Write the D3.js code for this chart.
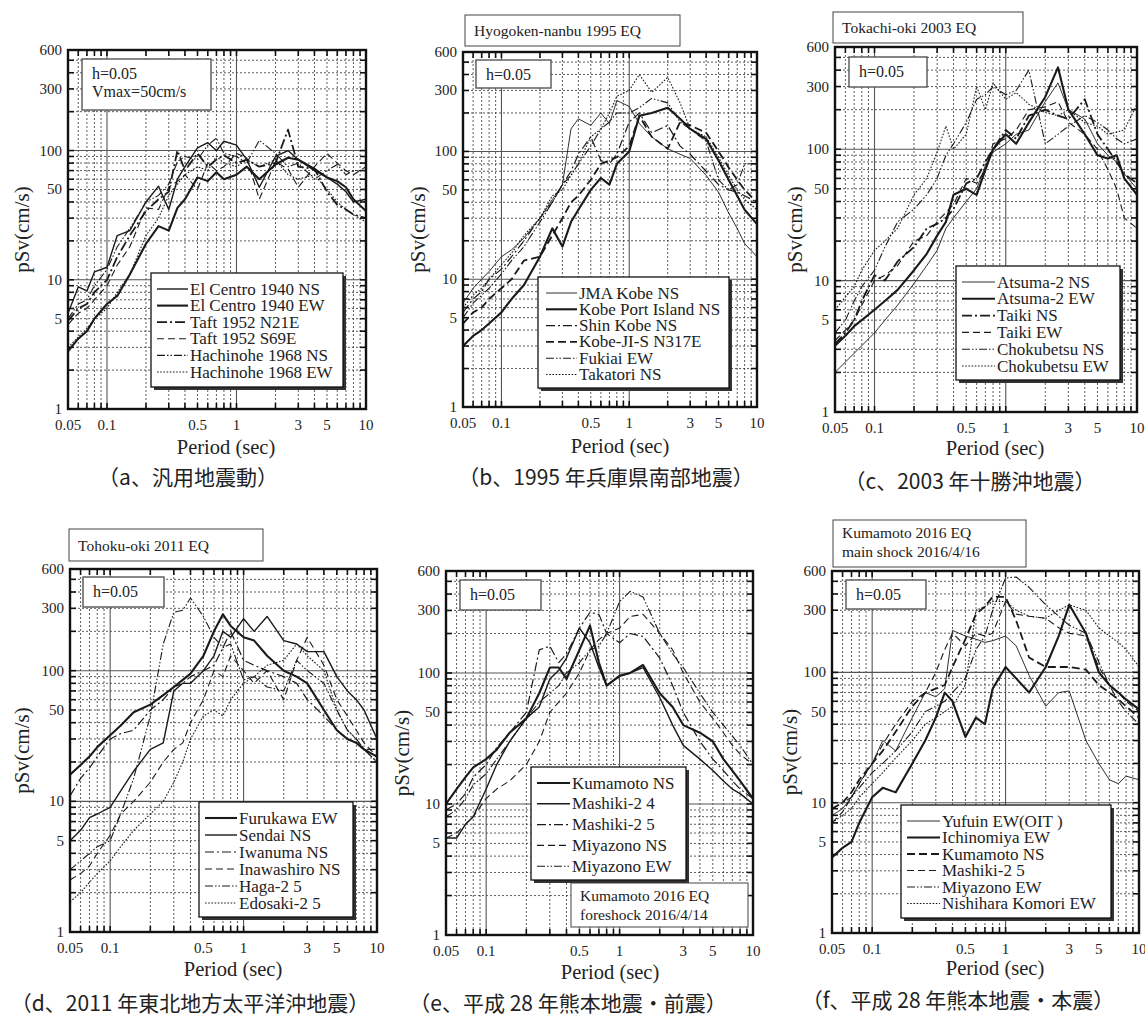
<!DOCTYPE html>
<html>
<head>
<meta charset="utf-8">
<script src="https://cdnjs.cloudflare.com/ajax/libs/d3/7.8.5/d3.min.js"></script>
<style>
  body { margin: 0; background: #fff; }
  svg text { font-family: "Liberation Serif", "DejaVu Serif", serif; fill: #222; }
  svg text.cap { font-family: "Noto Sans CJK JP", "Noto Sans", sans-serif; }
</style>
</head>
<body>
<svg id="chart" width="1145" height="1025"></svg>
<script>

// Periods (sec) shared by all spectra
const periods = [0.05, 0.06, 0.07, 0.08, 0.1, 0.12, 0.15, 0.2, 0.25, 0.3, 0.35, 0.4, 0.5, 0.6, 0.7, 0.8, 1, 1.2, 1.5, 2, 2.5, 3, 4, 5, 6, 7, 8, 10];

const xTickLabels = [0.05, 0.1, 0.5, 1, 3, 5, 10];
const yTickLabels = [1, 5, 10, 50, 100, 300, 600];

// (a) standard ground motions
const elCentroNS  = [5.5, 8.8, 8.2, 11.5, 12.5, 22, 24, 40, 53, 35, 60, 75, 105, 115, 100, 118, 110, 85, 52, 90, 100, 85, 70, 62, 55, 48, 40, 42];
const elCentroEW  = [2.8, 3.5, 4, 5, 6.5, 7.5, 11, 19, 26, 24, 36, 42, 62, 58, 68, 60, 65, 75, 60, 78, 88, 85, 72, 62, 58, 52, 42, 34];
const taftN21E    = [4.8, 6, 6.5, 8, 10, 15, 22, 34, 42, 48, 100, 70, 95, 75, 85, 92, 80, 85, 75, 80, 145, 75, 72, 48, 38, 35, 32, 30];
const taftS69E    = [4.5, 5.5, 6, 7, 9, 13, 18, 36, 35, 52, 58, 65, 50, 80, 70, 75, 95, 88, 42, 82, 72, 52, 75, 95, 80, 70, 65, 75];
const hachinoheNS = [5, 6.5, 7, 9, 12, 18, 25, 40, 45, 55, 82, 90, 85, 110, 125, 95, 90, 80, 120, 95, 75, 80, 60, 70, 78, 65, 70, 70];
const hachinoheEW = [3, 3.6, 4.2, 5, 6, 8, 11, 22, 30, 45, 55, 65, 75, 70, 90, 80, 75, 85, 75, 85, 65, 60, 65, 50, 40, 35, 32, 28];

// (b) Hyogoken-nanbu 1995
const jmaKobeNS   = [6.5, 8.5, 10, 11.5, 15, 17, 21, 30, 42, 55, 150, 180, 160, 200, 165, 250, 225, 165, 130, 105, 95, 88, 65, 48, 33, 25, 19, 15];
const portIslandNS = [3, 3.6, 4, 4.5, 5.5, 7, 9, 15, 25, 18, 28, 35, 50, 62, 55, 80, 100, 190, 200, 220, 180, 150, 125, 85, 60, 45, 35, 27];
const shinKobeNS  = [5.5, 7, 8, 10, 12, 15, 20, 30, 40, 55, 70, 95, 130, 85, 80, 95, 170, 200, 140, 160, 110, 95, 70, 55, 50, 48, 45, 40];
const kobeJIS     = [4.5, 5.5, 6, 7, 8.5, 10, 14, 15, 22, 30, 40, 45, 60, 80, 85, 90, 110, 190, 130, 105, 170, 160, 140, 100, 75, 60, 50, 40];
const fukiaiEW    = [5, 6.5, 7.5, 8.5, 11, 14, 18, 28, 40, 55, 65, 80, 110, 150, 170, 200, 200, 220, 260, 240, 170, 150, 120, 60, 50, 55, 80, 80];
const takatoriNS  = [6, 7.5, 8.5, 10, 13, 16, 22, 30, 45, 50, 65, 80, 130, 150, 200, 270, 300, 400, 290, 380, 240, 150, 130, 90, 65, 50, 42, 35];

// (c) Tokachi-oki 2003
const atsumaNS    = [2, 2.4, 2.8, 3.2, 4, 5, 6.5, 9.5, 13, 17, 25, 30, 40, 50, 75, 95, 110, 130, 140, 230, 320, 200, 170, 110, 90, 80, 65, 50];
const atsumaEW    = [3.2, 3.8, 4.5, 5, 6, 7, 8.5, 12, 16, 22, 28, 45, 50, 45, 70, 100, 130, 110, 160, 250, 420, 200, 130, 90, 85, 90, 60, 45];
const taikiNS     = [3.3, 4, 5, 7, 11, 10, 14, 18, 25, 27, 30, 35, 55, 60, 80, 100, 140, 120, 180, 200, 180, 170, 240, 130, 100, 80, 65, 55];
const taikiEW     = [3.5, 4.2, 5, 6.5, 10, 11, 13, 20, 22, 28, 33, 38, 60, 55, 70, 110, 120, 140, 200, 210, 230, 160, 130, 100, 70, 50, 30, 25];
const chokubetsuNS = [4, 5, 7, 9, 12, 18, 28, 35, 45, 60, 90, 110, 160, 240, 260, 300, 260, 280, 400, 110, 130, 150, 180, 160, 140, 120, 110, 120];
const chokubetsuEW = [6, 7.5, 9, 12, 17, 20, 25, 45, 60, 95, 150, 100, 130, 300, 200, 320, 240, 270, 220, 190, 180, 200, 160, 150, 130, 135, 140, 220];

// (d) Tohoku-oki 2011
const furukawaEW  = [16, 19, 22, 26, 32, 38, 48, 55, 65, 75, 85, 95, 130, 200, 270, 220, 180, 170, 130, 100, 90, 80, 50, 35, 30, 28, 25, 22];
const sendaiNS    = [5, 6, 7.5, 8, 9, 12, 17, 25, 28, 70, 80, 80, 100, 130, 200, 180, 250, 200, 260, 170, 160, 140, 140, 90, 70, 60, 50, 30];
const iwanumaNS   = [11, 15, 18, 22, 30, 33, 35, 50, 60, 75, 80, 90, 100, 110, 150, 200, 120, 110, 100, 90, 80, 60, 45, 35, 30, 28, 25, 20];
const inawashiroNS = [2.5, 2.8, 3.2, 4, 5.5, 8, 10, 14, 20, 25, 28, 40, 60, 100, 90, 130, 100, 80, 100, 60, 120, 180, 110, 60, 45, 35, 28, 22];
const haga25      = [3, 3.5, 4, 4.5, 5, 8, 15, 45, 160, 280, 290, 360, 260, 180, 150, 160, 85, 90, 75, 70, 120, 100, 80, 50, 35, 30, 25, 25];
const edosaki25   = [1.7, 2, 2.4, 2.8, 3.5, 4.5, 6, 8, 10, 14, 20, 30, 45, 50, 45, 60, 80, 90, 110, 120, 160, 130, 100, 50, 35, 30, 25, 20];

// (e) Kumamoto 2016 foreshock
const kumamotoNSe = [10, 13, 16, 19, 22, 26, 35, 45, 70, 110, 110, 90, 150, 230, 120, 80, 95, 100, 115, 70, 55, 40, 35, 30, 22, 18, 15, 11];
const mashiki24   = [5.5, 5.5, 7, 8, 13, 20, 30, 45, 55, 90, 105, 130, 220, 170, 110, 80, 95, 100, 110, 65, 40, 28, 22, 18, 15, 13, 12, 10];
const mashiki25e  = [9, 10, 12, 16, 20, 27, 35, 50, 150, 160, 120, 140, 220, 290, 280, 200, 170, 200, 190, 130, 80, 50, 30, 22, 18, 15, 13, 11];
const miyazonoNSe = [5.5, 6, 7, 8, 11, 13, 15, 20, 30, 50, 60, 70, 100, 150, 180, 200, 220, 270, 280, 200, 150, 100, 60, 45, 35, 28, 24, 20];
const miyazonoEWe = [8, 9, 11, 14, 17, 22, 30, 45, 60, 70, 80, 100, 120, 150, 160, 200, 350, 420, 380, 200, 140, 110, 70, 50, 40, 33, 28, 20];

// (f) Kumamoto 2016 main shock
const yufuinEW    = [8, 9, 11, 14, 20, 30, 25, 45, 70, 65, 75, 210, 190, 180, 170, 175, 190, 160, 95, 55, 70, 72, 30, 20, 15, 14, 16, 15];
const ichinomiyaEW = [3.8, 4.5, 5, 7, 11, 13, 12, 20, 30, 45, 70, 60, 32, 45, 40, 75, 110, 90, 70, 110, 190, 330, 200, 100, 80, 70, 62, 52];
const kumamotoNSf = [9, 10, 12, 15, 20, 25, 35, 55, 70, 75, 80, 110, 180, 280, 320, 380, 380, 250, 130, 110, 110, 110, 105, 80, 70, 62, 55, 45];
const mashiki25f  = [7, 8.5, 11, 14, 20, 28, 40, 60, 70, 100, 150, 200, 160, 200, 190, 200, 350, 280, 270, 260, 220, 200, 190, 110, 80, 70, 60, 50];
const miyazonoEWf = [9, 10, 11, 13, 17, 20, 25, 35, 50, 55, 60, 70, 90, 150, 190, 300, 530, 540, 450, 330, 270, 230, 200, 120, 80, 60, 50, 40];
const nishiharaEW = [7, 8, 9, 11, 14, 17, 22, 30, 40, 45, 50, 55, 80, 300, 320, 350, 350, 300, 270, 260, 300, 330, 300, 220, 190, 170, 150, 110];

// Line styles
const styles = {
  thick:  { w: 2.1, dash: null },
  solid:  { w: 1.4, dash: null },
  thin:   { w: 0.9, dash: null },
  dashdot: { w: 1.2, dash: "9,3,2,3" },
  dashdotB: { w: 1.8, dash: "10,3,2,3" },
  dash:   { w: 1.1, dash: "7,4" },
  dashB:  { w: 1.8, dash: "8,4" },
  ddot:   { w: 1.1, dash: "8,2,1.5,2,1.5,2" },
  dot:    { w: 1.1, dash: "1.6,1.6" }
};

// Panel layout
const panels = [
  { L: 68, R: 366, T: 50, B: 409,
    series: [
      { name: "El Centro 1940 NS", v: elCentroNS, s: "solid" },
      { name: "El Centro 1940 EW", v: elCentroEW, s: "thick" },
      { name: "Taft 1952 N21E", v: taftN21E, s: "dashdotB" },
      { name: "Taft 1952 S69E", v: taftS69E, s: "dash" },
      { name: "Hachinohe 1968 NS", v: hachinoheNS, s: "ddot" },
      { name: "Hachinohe 1968 EW", v: hachinoheEW, s: "dot" }],
    legend: { x: 151, y: 273, w: 192, h: 114, step: 16.6, sx: 6, sl: 31 },
    hbox: { x: 82, y: 59, w: 129, h: 51, lines: ["h=0.05", "Vmax=50cm/s"] },
    title: null,
    caption: { text: "（a、汎用地震動）", x: 188, y: 485 },
    xl: 226, xly: 454, yl: 22 },
  { L: 463, R: 757, T: 52, B: 407,
    series: [
      { name: "JMA Kobe NS", v: jmaKobeNS, s: "thin" },
      { name: "Kobe Port Island NS", v: portIslandNS, s: "thick" },
      { name: "Shin Kobe NS", v: shinKobeNS, s: "dashdot" },
      { name: "Kobe-JI-S N317E", v: kobeJIS, s: "dashB" },
      { name: "Fukiai EW", v: fukiaiEW, s: "ddot" },
      { name: "Takatori NS", v: takatoriNS, s: "dot" }],
    legend: { x: 538, y: 277, w: 191, h: 111, step: 16.3, sx: 8, sl: 31 },
    hbox: { x: 476, y: 60, w: 75, h: 28, lines: ["h=0.05"] },
    title: { x: 465, y: 15, w: 215, h: 31, lines: ["Hyogoken-nanbu 1995 EQ"] },
    caption: { text: "（b、1995 年兵庫県南部地震）", x: 606, y: 485 },
    xl: 620, xly: 453, yl: 418 },
  { L: 835, R: 1137, T: 47, B: 412,
    series: [
      { name: "Atsuma-2 NS", v: atsumaNS, s: "thin" },
      { name: "Atsuma-2 EW", v: atsumaEW, s: "thick" },
      { name: "Taiki NS", v: taikiNS, s: "dashdotB" },
      { name: "Taiki EW", v: taikiEW, s: "dash" },
      { name: "Chokubetsu NS", v: chokubetsuNS, s: "ddot" },
      { name: "Chokubetsu EW", v: chokubetsuEW, s: "dot" }],
    legend: { x: 956, y: 266, w: 164, h: 114, step: 16.8, sx: 6, sl: 33 },
    hbox: { x: 849, y: 57, w: 78, h: 30, lines: ["h=0.05"] },
    title: { x: 833, y: 12, w: 190, h: 31, lines: ["Tokachi-oki 2003 EQ"] },
    caption: { text: "（c、2003 年十勝沖地震）", x: 970, y: 489 },
    xl: 995, xly: 455, yl: 795 },
  { L: 70, R: 377, T: 569, B: 932,
    series: [
      { name: "Furukawa EW", v: furukawaEW, s: "thick" },
      { name: "Sendai NS", v: sendaiNS, s: "solid" },
      { name: "Iwanuma NS", v: iwanumaNS, s: "dashdot" },
      { name: "Inawashiro NS", v: inawashiroNS, s: "dash" },
      { name: "Haga-2 5", v: haga25, s: "ddot" },
      { name: "Edosaki-2 5", v: edosaki25, s: "dot" }],
    legend: { x: 199, y: 802, w: 154, h: 115, step: 17, sx: 6, sl: 32 },
    hbox: { x: 83, y: 577, w: 81, h: 30, lines: ["h=0.05"] },
    title: { x: 69, y: 529, w: 194, h: 32, lines: ["Tohoku-oki 2011 EQ"] },
    caption: { text: "（d、2011 年東北地方太平洋沖地震）", x: 190, y: 1011 },
    xl: 233, xly: 976, yl: 22 },
  { L: 446, R: 753, T: 571, B: 935,
    series: [
      { name: "Kumamoto NS", v: kumamotoNSe, s: "thick" },
      { name: "Mashiki-2 4", v: mashiki24, s: "solid" },
      { name: "Mashiki-2 5", v: mashiki25e, s: "dashdot" },
      { name: "Miyazono NS", v: miyazonoNSe, s: "dash" },
      { name: "Miyazono EW", v: miyazonoEWe, s: "ddot" }],
    legend: { x: 531, y: 767, w: 155, h: 113, step: 20.8, sx: 6, sl: 33 },
    hbox: { x: 460, y: 580, w: 81, h: 30, lines: ["h=0.05"] },
    title: { x: 571, y: 883, w: 177, h: 44, lines: ["Kumamoto 2016 EQ", "foreshock 2016/4/14"] },
    caption: { text: "（e、平成 28 年熊本地震・前震）", x: 568, y: 1011 },
    xl: 610, xly: 979, yl: 402 },
  { L: 832, R: 1139, T: 571, B: 933,
    series: [
      { name: "Yufuin EW(OIT )", v: yufuinEW, s: "thin" },
      { name: "Ichinomiya EW", v: ichinomiyaEW, s: "thick" },
      { name: "Kumamoto NS", v: kumamotoNSf, s: "dashB" },
      { name: "Mashiki-2 5", v: mashiki25f, s: "dash" },
      { name: "Miyazono EW", v: miyazonoEWf, s: "ddot" },
      { name: "Nishihara Komori EW", v: nishiharaEW, s: "dot" }],
    legend: { x: 901, y: 805, w: 210, h: 113, step: 16.5, sx: 6, sl: 33 },
    hbox: { x: 846, y: 580, w: 80, h: 29, lines: ["h=0.05"] },
    title: { x: 833, y: 520, w: 193, h: 47, lines: ["Kumamoto 2016 EQ", "main shock 2016/4/16"] },
    caption: { text: "（f、平成 28 年熊本地震・本震）", x: 958, y: 1008 },
    xl: 995, xly: 975, yl: 790 }
];

const svg = d3.select("#chart");

function fmt(v) { return String(v); }

function drawPanel(p, i) {
  const g = svg.append("g").attr("class", "panel");
  const x = d3.scaleLog().domain([0.05, 10]).range([p.L, p.R]);
  const y = d3.scaleLog().domain([1, 600]).range([p.B, p.T]);

  const clipId = "clip" + i;
  g.append("clipPath").attr("id", clipId)
    .append("rect").attr("x", p.L).attr("y", p.T).attr("width", p.R - p.L).attr("height", p.B - p.T);

  const xt = x.ticks().filter(d => d > 0.0501 && d < 9.99);
  const yt = y.ticks().filter(d => d > 1.001 && d < 599);
  const isMajor = d => Math.abs(Math.log10(d) - Math.round(Math.log10(d))) < 1e-6;

  // minor grid (dotted)
  g.append("g").selectAll("line").data(xt.filter(d => !isMajor(d))).join("line")
    .attr("x1", d => x(d)).attr("x2", d => x(d)).attr("y1", p.T).attr("y2", p.B)
    .attr("stroke", "#333").attr("stroke-width", 0.8).attr("stroke-dasharray", "2,2");
  g.append("g").selectAll("line").data(yt.filter(d => !isMajor(d))).join("line")
    .attr("y1", d => y(d)).attr("y2", d => y(d)).attr("x1", p.L).attr("x2", p.R)
    .attr("stroke", "#333").attr("stroke-width", 0.8).attr("stroke-dasharray", "2,2");
  // decade lines (solid grey)
  g.append("g").selectAll("line").data(xt.filter(isMajor)).join("line")
    .attr("x1", d => x(d)).attr("x2", d => x(d)).attr("y1", p.T).attr("y2", p.B)
    .attr("stroke", "#555").attr("stroke-width", 1.1);
  g.append("g").selectAll("line").data(yt.filter(isMajor)).join("line")
    .attr("y1", d => y(d)).attr("y2", d => y(d)).attr("x1", p.L).attr("x2", p.R)
    .attr("stroke", "#555").attr("stroke-width", 1.1);

  // inward ticks on all four sides
  const tk = 6;
  const tg = g.append("g").attr("stroke", "#111").attr("stroke-width", 1.6);
  tg.selectAll(".tb").data(xt).join("line").attr("class", "tb")
    .attr("x1", d => x(d)).attr("x2", d => x(d)).attr("y1", p.B).attr("y2", p.B - tk);
  tg.selectAll(".tt").data(xt).join("line").attr("class", "tt")
    .attr("x1", d => x(d)).attr("x2", d => x(d)).attr("y1", p.T).attr("y2", p.T + tk);
  tg.selectAll(".tl").data(yt).join("line").attr("class", "tl")
    .attr("y1", d => y(d)).attr("y2", d => y(d)).attr("x1", p.L).attr("x2", p.L + tk);
  tg.selectAll(".tr").data(yt).join("line").attr("class", "tr")
    .attr("y1", d => y(d)).attr("y2", d => y(d)).attr("x1", p.R).attr("x2", p.R - tk);

  // spectra
  const line = d3.line().x((d, k) => x(periods[k])).y(d => y(d));
  g.append("g").attr("clip-path", `url(#${clipId})`)
    .selectAll("path").data(p.series).join("path")
    .attr("d", d => line(d.v))
    .attr("fill", "none").attr("stroke", "#1a1a1a")
    .attr("stroke-width", d => styles[d.s].w)
    .attr("stroke-dasharray", d => styles[d.s].dash)
    .attr("stroke-linejoin", "round");

  // frame
  g.append("rect").attr("x", p.L).attr("y", p.T).attr("width", p.R - p.L).attr("height", p.B - p.T)
    .attr("fill", "none").attr("stroke", "#111").attr("stroke-width", 2.4);

  // tick labels
  g.append("g").selectAll("text").data(xTickLabels).join("text")
    .attr("x", d => x(d)).attr("y", p.B + 21).attr("text-anchor", "middle")
    .attr("font-size", 15).text(fmt);
  g.append("g").selectAll("text").data(yTickLabels).join("text")
    .attr("x", p.L - 6).attr("y", d => y(d) + 5).attr("text-anchor", "end")
    .attr("font-size", 15).text(fmt);

  // axis titles
  g.append("text").attr("x", p.xl).attr("y", p.xly).attr("text-anchor", "middle")
    .attr("font-size", 20.5).text("Period (sec)");
  g.append("text").attr("transform", `translate(${p.yl + 7},${(p.T + p.B) / 2}) rotate(-90)`)
    .attr("text-anchor", "middle").attr("font-size", 21).text("pSv(cm/s)");

  // h=0.05 box
  const h = p.hbox;
  g.append("rect").attr("x", h.x).attr("y", h.y).attr("width", h.w).attr("height", h.h)
    .attr("fill", "#fff").attr("stroke", "#555").attr("stroke-width", 1.4);
  h.lines.forEach((t, k) => g.append("text").attr("x", h.x + 10).attr("y", h.y + 20 + k * 18)
    .attr("font-size", 16).text(t));

  // event title box
  if (p.title) {
    const t = p.title;
    g.append("rect").attr("x", t.x).attr("y", t.y).attr("width", t.w).attr("height", t.h)
      .attr("fill", "#fff").attr("stroke", "#444").attr("stroke-width", 1);
    const top = t.lines.length === 1 ? t.y + t.h / 2 + 5.5 : t.y + 18;
    t.lines.forEach((s, k) => g.append("text").attr("x", t.x + 9).attr("y", top + k * 19)
      .attr("font-size", 15.5).text(s));
  }

  // legend with shadow
  const lg = p.legend;
  g.append("rect").attr("x", lg.x + 3).attr("y", lg.y + 3).attr("width", lg.w).attr("height", lg.h)
    .attr("fill", "#333");
  g.append("rect").attr("x", lg.x).attr("y", lg.y).attr("width", lg.w).attr("height", lg.h)
    .attr("fill", "#fff").attr("stroke", "#111").attr("stroke-width", 1.3);
  const items = g.append("g").selectAll("g").data(p.series).join("g")
    .attr("transform", (d, k) => `translate(${lg.x + lg.sx},${lg.y + 16 + k * lg.step})`);
  items.append("line").attr("x1", 0).attr("x2", lg.sl).attr("y1", 0).attr("y2", 0)
    .attr("stroke", "#1a1a1a")
    .attr("stroke-width", d => styles[d.s].w)
    .attr("stroke-dasharray", d => styles[d.s].dash);
  items.append("text").attr("x", lg.sl + 2).attr("y", 5.5).attr("font-size", 17).text(d => d.name);

  // caption
  svg.append("text").attr("class", "cap").attr("x", p.caption.x).attr("y", p.caption.y)
    .attr("text-anchor", "middle").attr("font-size", 21).text(p.caption.text);
}

panels.forEach(drawPanel);
</script>
</body>
</html>
